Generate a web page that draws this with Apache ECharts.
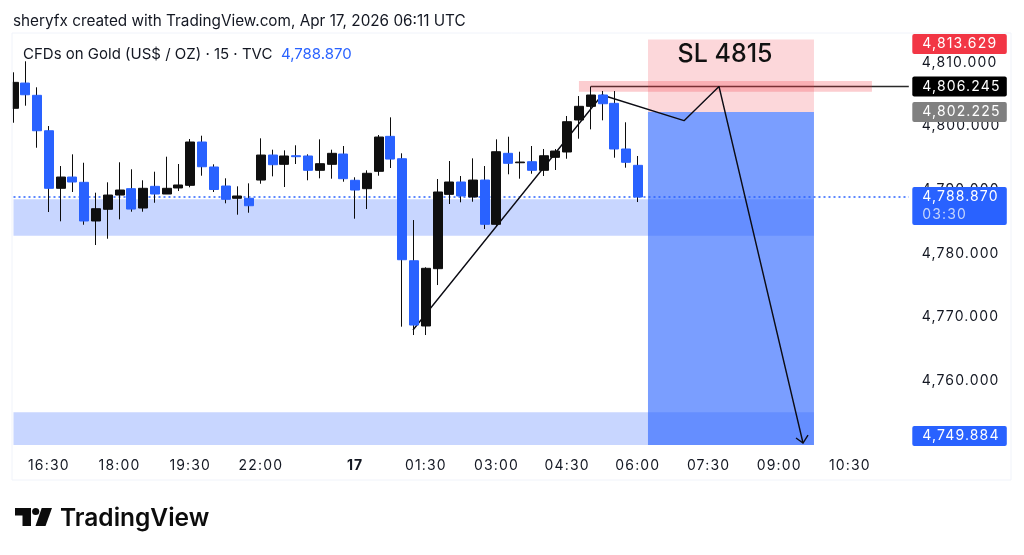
<!DOCTYPE html>
<html style="height: 100%">
<head>
<title>CFDs on Gold 15m</title>
<script src="https://cdn.jsdelivr.net/npm/echarts@6/dist/echarts.min.js"></script>
<style>
    body { margin: 0; height: 100%; background: #fff; }
</style>
</head>
<body>
<div id="target" style="width: 1024px; height: 555px"></div>
<script>
// 15 minute bars, market closed 21:00 to 22:00, "17" is the day break
let times = [
    "15:45","16:00","16:15","16:30","16:45","17:00","17:15","17:30","17:45","18:00",
    "18:15","18:30","18:45","19:00","19:15","19:30","19:45","20:00","20:15","20:30",
    "20:45","22:00","22:15","22:30","22:45","23:00","23:15","23:30","23:45","17",
    "00:15","00:30","00:45","01:00","01:15","01:30","01:45","02:00","02:15","02:30",
    "02:45","03:00","03:15","03:30","03:45","04:00","04:15","04:30","04:45","05:00",
    "05:15","05:30","05:45","06:00","06:15","06:30","06:45","07:00","07:15","07:30",
    "07:45","08:00","08:15","08:30","08:45","09:00","09:15","09:30","09:45","10:00",
    "10:15","10:30","10:45","11:00","11:15","11:30","11:45",
];
let timeTicks = ["16:30","18:00","19:30","22:00","17","01:30","03:00","04:30","06:00","07:30","09:00","10:30"];
let priceTicks = [4760, 4770, 4780, 4790, 4800, 4810];

let opens = [
    4802.82,4806.79,4804.86,4799.29,4790.24,4792.01,4791.18,4785.10,4786.94,4789.18,
    4790.18,4787.14,4790.55,4789.34,4790.29,4790.71,4797.52,4793.59,4790.60,4788.67,
    4788.67,4791.54,4795.47,4794.01,4795.36,4795.32,4793.07,4794.01,4795.63,4791.50,
    4790.18,4792.91,4798.41,4794.89,4778.85,4768.59,4777.60,4789.29,4791.23,4788.87,
    4791.54,4784.58,4795.74,4794.26,4794.42,4793.07,4795.11,4795.95,4800.98,4803.13,
    4804.91,4803.60,4796.42,4793.85,
];
let closes = [
    4806.90,4804.95,4799.29,4790.24,4792.01,4791.23,4785.10,4787.03,4789.18,4789.97,
    4786.98,4790.24,4789.34,4790.24,4790.76,4797.52,4793.63,4790.05,4788.51,4789.03,
    4787.50,4795.47,4793.95,4795.32,4795.21,4793.07,4794.11,4795.74,4791.75,4789.97,
    4792.60,4798.30,4794.84,4779.01,4768.74,4777.66,4789.66,4791.23,4789.03,4791.54,
    4784.58,4795.99,4794.17,4794.37,4793.07,4795.36,4796.10,4800.71,4803.13,4804.91,
    4803.54,4796.42,4794.33,4788.87,
];
let lows = [
    4800.55,4803.23,4796.62,4786.51,4785.05,4789.66,4784.51,4781.32,4782.31,4785.36,
    4786.56,4786.56,4787.97,4789.34,4789.81,4790.40,4792.22,4789.66,4787.88,4786.09,
    4786.40,4790.96,4792.12,4790.44,4794.06,4791.50,4791.81,4791.75,4791.28,4785.46,
    4786.98,4792.22,4793.43,4768.48,4767.17,4767.17,4775.03,4787.77,4788.04,4788.13,
    4783.84,4784.31,4792.44,4791.75,4792.53,4792.17,4793.12,4794.89,4798.04,4799.51,
    4800.93,4795.05,4793.48,4788.08,
];
let highs = [
    4808.48,4810.21,4806.12,4800.03,4793.74,4795.58,4794.26,4789.55,4791.18,4794.33,
    4793.23,4791.50,4792.85,4795.21,4794.06,4797.99,4798.51,4794.01,4791.81,4790.55,
    4791.02,4798.10,4796.31,4796.21,4797.00,4795.58,4797.94,4796.31,4796.89,4791.97,
    4793.07,4798.62,4801.40,4795.74,4785.25,4777.82,4791.70,4794.53,4792.17,4794.95,
    4793.74,4797.94,4798.35,4795.99,4796.89,4796.42,4796.42,4801.61,4804.75,4806.245,
    4805.54,4805.54,4800.62,4795.32,
];

// drawings, x is in bars from the first candle
let supportZone = [0, 67.95, 4788.51, 4782.79];
let targetZone = [0, 67.95, 4755.02, 4749.884];
let highZone = [48, 72.87, 4807.11, 4805.43];
let stopBox = [53.86, 67.95, 4813.629, 4802.225];
let profitBox = [53.86, 67.95, 4802.225, 4749.884];
let pathBars = [33.91, 49.96, 56.92, 59.89, 67.02];
let pathPrices = [4767.96, 4804.91, 4800.87, 4806.245, 4750.19];
let stopNote = [60.4, 4811.35, "SL 4815"];

let lastPrice = 4788.87;
let tagPrices = [4813.629, 4806.245, 4802.225, 4788.87, 4749.884];
let tagTexts = ["4,813.629", "4,806.245", "4,802.225", "4,788.870", "4,749.884"];
let countdown = "03:30";

const FONT = "Inter";
const INK = "#131722";
const BLUE = "#2962ff";
const tagColors = ["#f23645", "#000000", "#808080", BLUE, BLUE];
const barCount = times.length - 1;

// axis and tag text is tracked out in the original, only those use 14px here
let fillTextOrig = CanvasRenderingContext2D.prototype.fillText;
CanvasRenderingContext2D.prototype.fillText = function (...args) {
    this.letterSpacing = this.font.includes(" 14px") || this.font.startsWith("14px") ? "1.15px" : "0px";
    return fillTextOrig.apply(this, args);
};

let PairSeries = (pair) => pair.map((v, i) => [pathBars[i], v]);

let ZoneSeries = (name, zone, color, z) => ({
    name: name,
    type: "custom",
    xAxisIndex: 1,
    z: z,
    silent: true,
    data: [zone],
    renderItem: (params, api) => {
        let a = api.coord([api.value(0), api.value(2)]);
        let b = api.coord([api.value(1), api.value(3)]);
        return {
            type: "rect",
            shape: { x: a[0], y: a[1], width: b[0] - a[0], height: b[1] - a[1] },
            style: { fill: color },
        };
    },
});

let chart = echarts.init(document.getElementById("target"), null, { renderer: "canvas" });

let option = {
    animation: false,
    backgroundColor: "#ffffff",
    textStyle: { fontFamily: FONT },
    grid: { left: 13.5, top: 33, width: 895.3, height: 417 },
    xAxis: [
        {
            type: "category",
            data: times,
            boundaryGap: false,
            axisLine: { show: false },
            axisTick: { show: false },
            splitLine: { show: false },
            axisLabel: {
                interval: (idx, val) => timeTicks.includes(val),
                color: INK,
                fontFamily: FONT,
                fontSize: 14,
                margin: 9,
                formatter: (val) => val == "17" ? "{b|17}" : val,
                rich: { b: { fontFamily: FONT, fontSize: 14, fontWeight: "bold", color: INK } },
            },
        },
        { type: "value", min: 0, max: barCount, show: false },
    ],
    yAxis: {
        type: "value",
        position: "right",
        min: 4749.09,
        max: 4814.66,
        axisLine: { show: false },
        axisTick: { show: false },
        splitLine: { show: false },
        axisLabel: {
            customValues: priceTicks,
            color: INK,
            fontFamily: FONT,
            fontSize: 14,
            margin: 13,
            padding: [0, 0, 2, 0],
            formatter: (v) => v.toLocaleString("en-US", { minimumFractionDigits: 3 }),
        },
    },
    series: [
        // horizontal from the swing high sits under the zones
        {
            name: "Swing high",
            type: "line",
            xAxisIndex: 1,
            z: 1,
            symbol: "none",
            silent: true,
            lineStyle: { color: "#2a2a2a", width: 1.3 },
            data: [[49, 4806.245], [barCount, 4806.245]],
        },
        ZoneSeries("Support zone", supportZone, "rgba(41,98,255,0.26)", 2),
        ZoneSeries("Target zone", targetZone, "rgba(41,98,255,0.26)", 2),
        ZoneSeries("Stop box", stopBox, "rgba(242,54,69,0.2)", 2),
        ZoneSeries("Profit box", profitBox, "rgba(41,98,255,0.62)", 2),
        ZoneSeries("High zone", highZone, "rgba(242,54,69,0.25)", 2),
        {
            name: "Last price",
            type: "line",
            xAxisIndex: 1,
            z: 3,
            symbol: "none",
            silent: true,
            lineStyle: { color: BLUE, width: 1.3, type: [2, 3] },
            data: [[0, lastPrice], [barCount, lastPrice]],
        },
        {
            name: "Path",
            type: "line",
            xAxisIndex: 1,
            z: 4,
            symbol: "none",
            silent: true,
            lineStyle: { color: "#0c0c14", width: 1.4 },
            data: PairSeries(pathPrices),
        },
        // arrow head on the last path point
        {
            name: "Arrow",
            type: "custom",
            xAxisIndex: 1,
            z: 4,
            silent: true,
            data: [[pathBars[4], pathPrices[4]]],
            renderItem: (params, api) => {
                let p = api.coord([api.value(0), api.value(1)]);
                return {
                    type: "polyline",
                    shape: { points: [[p[0] - 7, p[1] - 5], p, [p[0] + 5, p[1] - 8]] },
                    style: { fill: null, stroke: "#0c0c14", lineWidth: 1.4 },
                };
            },
        },
        // wicks are always black, bodies go on top
        {
            name: "Wicks",
            type: "candlestick",
            z: 5,
            silent: true,
            barWidth: 1,
            itemStyle: { color: "#0c0c0c", color0: "#0c0c0c", borderColor: "#0c0c0c", borderColor0: "#0c0c0c", borderWidth: 1 },
            data: opens.map((o, i) => [o, closes[i], lows[i], highs[i]]),
        },
        {
            name: "Bodies",
            type: "candlestick",
            z: 6,
            silent: true,
            barWidth: 9.5,
            itemStyle: { color: "#0f0f0f", color0: BLUE, borderColor: "#0f0f0f", borderColor0: BLUE, borderWidth: 1 },
            data: opens.map((o, i) => [o, closes[i], Math.min(o, closes[i]), Math.max(o, closes[i])]),
        },
        {
            name: "Stop note",
            type: "custom",
            xAxisIndex: 1,
            z: 7,
            silent: true,
            data: [stopNote],
            renderItem: (params, api) => {
                let p = api.coord([api.value(0), api.value(1)]);
                return {
                    type: "text",
                    x: p[0],
                    y: p[1],
                    style: {
                        text: stopNote[2],
                        fill: "#111111",
                        font: "500 25px " + FONT,
                        align: "center",
                        verticalAlign: "middle",
                    },
                };
            },
        },
        // price tags on the right, pushed back inside the scale when they would leave it
        {
            name: "Price tags",
            type: "custom",
            xAxisIndex: 1,
            z: 8,
            silent: true,
            data: tagPrices.map((p, i) => [i, p]),
            renderItem: (params, api) => {
                let i = api.value(0);
                let sys = params.coordSys;
                let isLast = tagPrices[i] == lastPrice;
                let h = isLast ? 38 : 20;
                let y = api.coord([0, api.value(1)])[1];
                let top = Math.min(Math.max(y - 10, sys.y + 1), sys.y + sys.height - 4 - h);
                let left = sys.x + sys.width + 3.5;
                let children = [
                    {
                        type: "rect",
                        shape: { x: left, y: top, width: 94.5, height: h, r: 2 },
                        style: { fill: tagColors[i] },
                    },
                    {
                        type: "text",
                        x: left + 10,
                        y: top + 10,
                        style: { text: tagTexts[i], fill: "#ffffff", font: "14px " + FONT, verticalAlign: "middle" },
                    },
                ];
                if (isLast)
                {
                    children.push({
                        type: "text",
                        x: left + 10,
                        y: top + 28,
                        style: { text: countdown, fill: "#c5d5fb", font: "14px " + FONT, verticalAlign: "middle" },
                    });
                }
                return { type: "group", children: children };
            },
        },
    ],
    graphic: [
        // first candle is cut off by the pane edge
        {
            type: "rect",
            z: 20,
            shape: { x: 0, y: 34, width: 12.5, height: 445 },
            style: { fill: "#ffffff" },
        },
        {
            type: "rect",
            z: 21,
            shape: { x: 12, y: 33, width: 999, height: 447 },
            style: { fill: null, stroke: "#f0f3fa", lineWidth: 1 },
        },
        {
            type: "text",
            left: 13,
            top: 14,
            style: { text: "sheryfx created with TradingView.com, Apr 17, 2026 06:11 UTC", fill: INK, font: "15.3px " + FONT },
        },
        {
            type: "text",
            left: 23,
            top: 47,
            z: 20,
            style: { text: "CFDs on Gold (US$ / OZ) · 15 · TVC", fill: INK, font: "15px " + FONT },
        },
        {
            type: "text",
            left: 281,
            top: 47,
            z: 20,
            style: { text: "4,788.870", fill: BLUE, font: "15px " + FONT },
        },
        // logo mark
        {
            type: "polygon",
            shape: { points: [[15, 508], [31, 508], [31, 526], [22.5, 526], [22.5, 515.5], [15, 515.5]] },
            style: { fill: "#0c0c0c" },
        },
        { type: "circle", shape: { cx: 35.7, cy: 511.5, r: 3.6 }, style: { fill: "#0c0c0c" } },
        {
            type: "polygon",
            shape: { points: [[41.7, 508], [52, 508], [45.5, 526], [35.5, 526]] },
            style: { fill: "#0c0c0c" },
        },
        {
            type: "text",
            left: 60,
            top: 506,
            style: { text: "TradingView", fill: "#0c0c0c", font: "600 24.5px " + FONT },
        },
    ],
};

chart.setOption(option);
window.addEventListener("resize", chart.resize);
</script>
</body>
</html>
